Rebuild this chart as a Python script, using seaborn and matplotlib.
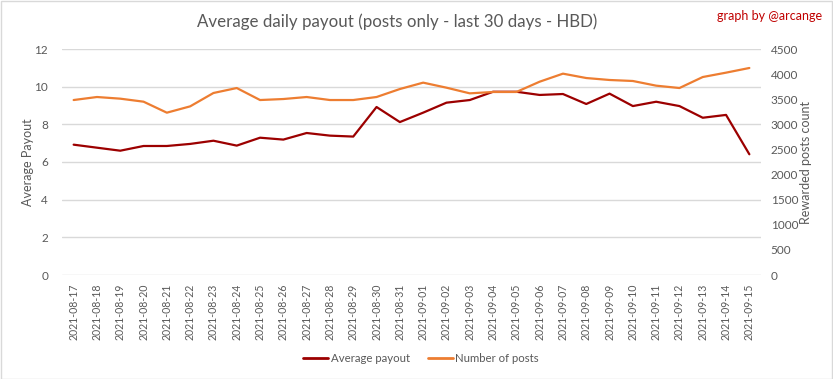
import matplotlib
matplotlib.use("Agg")
import matplotlib.pyplot as plt
import seaborn as sns
import pandas as pd
from matplotlib.patches import Rectangle
from matplotlib.lines import Line2D

dates = ["2021-08-17", "2021-08-18", "2021-08-19", "2021-08-20", "2021-08-21", "2021-08-22",
         "2021-08-23", "2021-08-24", "2021-08-25", "2021-08-26", "2021-08-27", "2021-08-28",
         "2021-08-29", "2021-08-30", "2021-08-31", "2021-09-01", "2021-09-02", "2021-09-03",
         "2021-09-04", "2021-09-05", "2021-09-06", "2021-09-07", "2021-09-08", "2021-09-09",
         "2021-09-10", "2021-09-11", "2021-09-12", "2021-09-13", "2021-09-14", "2021-09-15"]
avg_payout = [6.92, 6.76, 6.60, 6.85, 6.85, 6.96, 7.13, 6.87, 7.29, 7.19, 7.54, 7.40,
              7.35, 8.92, 8.12, 8.62, 9.15, 9.29, 9.73, 9.73, 9.56, 9.61, 9.08, 9.63,
              8.97, 9.20, 8.97, 8.35, 8.50, 6.41]
num_posts = [3484, 3544, 3511, 3451, 3232, 3358, 3624, 3723, 3484, 3504, 3544, 3484,
             3484, 3544, 3703, 3830, 3730, 3617, 3644, 3644, 3849, 4009, 3922, 3883,
             3863, 3770, 3723, 3942, 4029, 4122]
left_ticks = [0, 2, 4, 6, 8, 10, 12]
right_ticks = [0, 500, 1000, 1500, 2000, 2500, 3000, 3500, 4000, 4500]

df = pd.DataFrame({"x": range(len(dates)), "date": dates,
                   "payout": avg_payout, "posts": num_posts})

sns.set_theme(style="white")
FONT = ["Lato", "DejaVu Sans"]
plt.rcParams["font.family"] = FONT
GREY = "#595959"
RED = "#9C0000"
ORANGE = "#ED7D31"

fig = plt.figure(figsize=(8.33, 3.79), dpi=100)
ax = fig.add_axes([62 / 833, 1 - 275 / 379, (761 - 62) / 833, (275 - 49) / 379])
ax2 = ax.twinx()

sns.lineplot(data=df, x="x", y="payout", ax=ax, color=RED, linewidth=1.6, legend=False)
sns.lineplot(data=df, x="x", y="posts", ax=ax2, color=ORANGE, linewidth=1.6, legend=False)

ax.set_xlim(-0.5, len(dates) - 0.5)
ax.set_ylim(0, 12)
ax2.set_ylim(0, 4500)
ax.set_yticks(left_ticks)
ax2.set_yticks(right_ticks)
ax.set_xticks(range(len(dates)))
ax.set_xticklabels(dates, rotation=90, fontsize=7.6, color=GREY)
ax.set_yticklabels([str(t) for t in left_ticks], fontsize=8.5, color=GREY)
ax2.set_yticklabels([str(t) for t in right_ticks], fontsize=8.5, color=GREY)

ax.grid(axis="y", color="#D9D9D9", linewidth=1)
ax.set_axisbelow(True)
for a in (ax, ax2):
    for s in a.spines.values():
        s.set_visible(False)
    a.tick_params(length=0)
ax.tick_params(axis="y", pad=10)
ax2.tick_params(axis="y", pad=7)
ax.tick_params(axis="x", pad=6)

ax.set_xlabel("")
ax.set_ylabel("Average Payout", fontsize=9, color=GREY, labelpad=0)
ax2.set_ylabel("Rewarded posts count", fontsize=9, color=GREY, labelpad=1)

fig.text(397 / 833, 1 - 22 / 379, "Average daily payout (posts only - last 30 days - HBD)",
         ha="center", va="center", fontsize=12.2, color=GREY)
fig.text(822 / 833, 1 - 16 / 379, "graph by @arcange", ha="right", va="center",
         fontsize=9, color="#C00000")

handles = [Line2D([], [], color=RED, linewidth=2),
           Line2D([], [], color=ORANGE, linewidth=2)]
fig.legend(handles, ["Average payout", "Number of posts"], loc="center",
           bbox_to_anchor=(421 / 833, 1 - 358 / 379), ncol=2, frameon=False,
           fontsize=8.2, labelcolor=GREY, handlelength=2.2, handletextpad=0.2,
           columnspacing=1.6)

fig.add_artist(Rectangle((0.5 / 833, 0.5 / 379), 1 - 1.5 / 833, 1 - 1.5 / 379,
                         transform=fig.transFigure, fill=False,
                         edgecolor="#D9D9D9", linewidth=1))

fig.savefig("out.png", dpi=100)
